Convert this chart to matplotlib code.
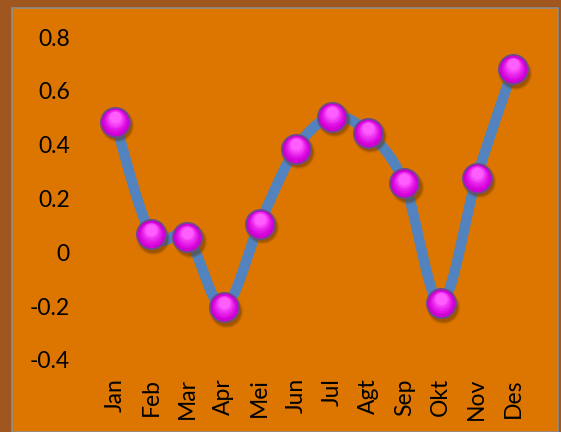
import numpy as np
import matplotlib.pyplot as plt
from matplotlib.patches import Rectangle
from matplotlib.transforms import offset_copy

# data
months = ["Jan", "Feb", "Mar", "Apr", "Mei", "Jun", "Jul", "Agt", "Sep", "Okt", "Nov", "Des"]
values = [0.485, 0.067, 0.056, -0.204, 0.107, 0.385, 0.504, 0.444, 0.256, -0.189, 0.278, 0.681]
yticks = [-0.4, -0.2, 0, 0.2, 0.4, 0.6, 0.8]
ylabels = ["-0.4", "-0.2", "0", "0.2", "0.4", "0.6", "0.8"]

W, H = 561, 432
fig = plt.figure(figsize=(W / 100, H / 100), dpi=100)
fig.patch.set_facecolor("#A0561F")
fig.patches.append(Rectangle((12 / W, 0), (558 - 12) / W, (H - 8) / H, transform=fig.transFigure,
                             facecolor="#DC7600", edgecolor="#8C8C8C", linewidth=1.2, zorder=0))

ax = fig.add_axes([97 / W, 1 - 360 / H, (531 - 97) / W, (360 - 37) / H])
ax.set_zorder(5)
ax.set_facecolor("none")
for s in ax.spines.values():
    s.set_visible(False)

x = np.arange(len(months))
y = np.array(values)

# smoothed line (Catmull-Rom through the points, like Excel's smoothing)
def smooth(xp, yp, n=30, t=0.5):
    px = np.concatenate([[xp[0]], xp, [xp[-1]]])
    py = np.concatenate([[yp[0]], yp, [yp[-1]]])
    xs, ys = [], []
    for i in range(1, len(px) - 2):
        p0, p1, p2, p3 = [np.array([px[j], py[j]]) for j in (i - 1, i, i + 1, i + 2)]
        c1 = p1 + t * (p2 - p0) / 3
        c2 = p2 - t * (p3 - p1) / 3
        s = np.linspace(0, 1, n)[:, None]
        pts = (1 - s) ** 3 * p1 + 3 * (1 - s) ** 2 * s * c1 + 3 * (1 - s) * s ** 2 * c2 + s ** 3 * p2
        xs.extend(pts[:, 0]); ys.extend(pts[:, 1])
    return np.array(xs), np.array(ys)

sx, sy = smooth(x, y)
ax.plot(sx, sy, color="#5283BE", linewidth=7.5, solid_capstyle="round", zorder=2)

# sphere-like markers: soft shadow, edge, then a gradient towards the top
for k, a in enumerate([0.12, 0.18, 0.25]):
    sh = offset_copy(ax.transData, fig=fig, x=1.5, y=-2.5, units="points")
    ax.plot(x, y, linestyle="", marker="o", markersize=24 - 1.5 * k, color="#5A3000", alpha=a,
            markeredgewidth=0, transform=sh, zorder=3)
ax.plot(x, y, linestyle="", marker="o", markersize=21, markerfacecolor="#C800CC",
        markeredgecolor="#6E4A8C", markeredgewidth=1.3, zorder=4)
grad = ["#D000D4", "#D808DC", "#E014E4", "#E824EC", "#F036F2", "#F84AF8", "#FF5EFF"]
for k, c in enumerate(grad):
    sz = 19 - 1.8 * k
    tr = offset_copy(ax.transData, fig=fig, x=0, y=0.55 * k, units="points")
    ax.plot(x, y, linestyle="", marker="o", markersize=sz, markerfacecolor=c,
            markeredgewidth=0, transform=tr, zorder=5 + k)

ax.set_xlim(-0.5, len(months) - 0.5)
ax.set_ylim(-0.4, 0.8)
ax.set_xticks(x)
ax.set_xticklabels(months, rotation=90, fontsize=16.5, family="Lato")
ax.set_yticks(yticks)
ax.set_yticklabels(ylabels, fontsize=16.5, family="Lato")
ax.tick_params(length=0)
ax.tick_params(axis="y", pad=19.5)
ax.tick_params(axis="x", pad=13)

fig.savefig("out.png", dpi=100, facecolor=fig.get_facecolor())
